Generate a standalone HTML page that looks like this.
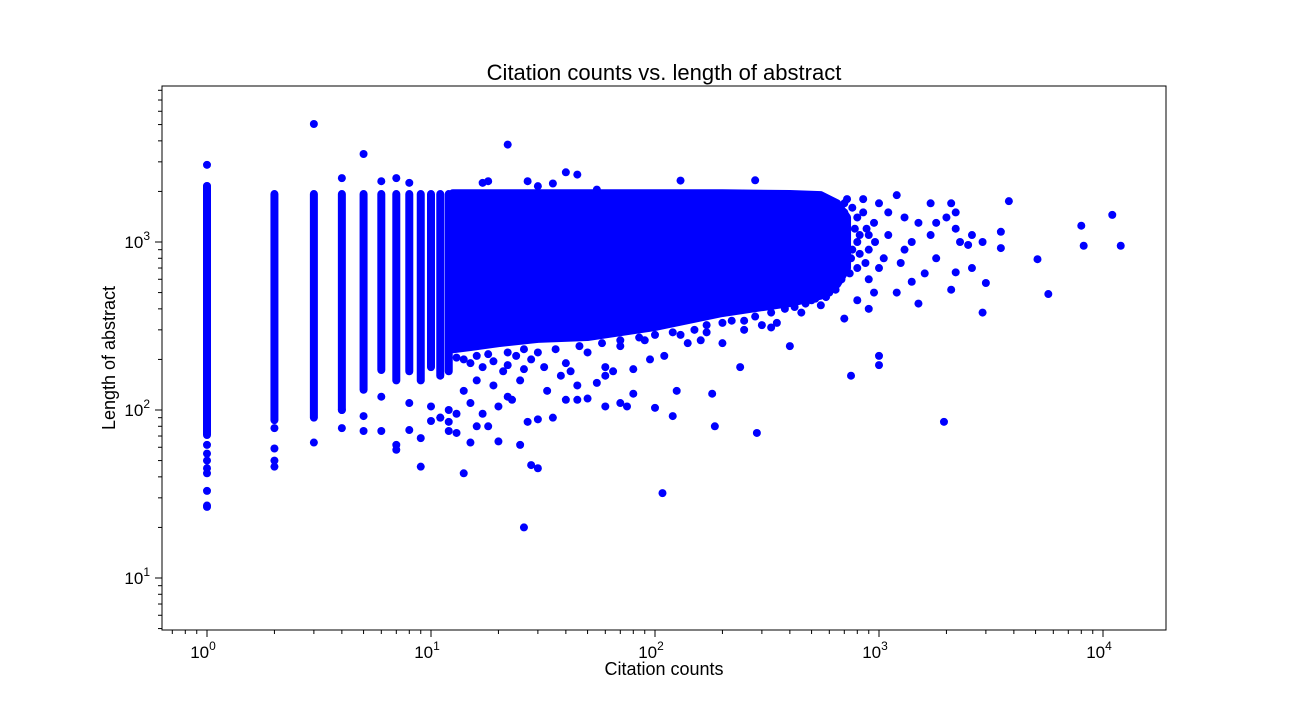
<!DOCTYPE html>
<html><head><meta charset="utf-8"><style>
body{margin:0;background:#fff;width:1296px;height:720px;overflow:hidden}
svg text{font-family:"Liberation Sans",sans-serif;fill:#000}
</style></head><body>
<svg id="chart" width="1296" height="720">
<text x="664" y="80" font-size="22" text-anchor="middle">Citation counts vs. length of abstract</text>
<text x="664" y="675" font-size="18" text-anchor="middle">Citation counts</text>
<text transform="translate(115,358) rotate(-90)" font-size="18" text-anchor="middle">Length of abstract</text>
<g id="marks"></g>
<g id="axes"></g>
</svg>
<script>
const xTicks=[0,1,2,3,4];
const yTicks=[1,2,3];
// integer citation columns: [citations, min length, max length]
const columns=[[1,71,2155],[2,87,1930],[3,90,1930],[4,100,1930],[5,132,1930],[6,173,1930],[7,150,1930],[8,170,1930],[9,150,1930],[10,180,1930],[11,160,1930],[12,170,1930]];
// dense band envelope: [citations, lower, upper]
const band=[[12.5,230,1950],[15,237,1950],[20,250,1950],[30,265,1950],[50,272,1950],[100,312,1950],[200,378,1950],[400,433,1930],[550,480,1900],[650,560,1700],[720,700,1400]];
// scattered points: [citations, length]
const points=[[1,2880],[1,2150],[1,62],[1,55],[1,50],[1,45],[1,42],[1,33],[1,27],[1,26.5],[2,59],[2,50],[2,46],[2,78],[3,5040],[3,64],[4,2400],[4,78],[4,100],[5,3340],[5,75],[5,92],[6,2300],[6,75],[6,120],[7,2400],[7,58],[7,62],[8,2250],[8,76],[8,110],[9,46],[9,68],[10,86],[11,90],[12,100],
[22,3800],[40,2600],[45,2520],[35,2230],[17,2250],[18,2300],[27,2300],[30,2150],[55,2050],[130,2320],[280,2330],
[3800,1750],[11000,1450],[8000,1250],[12000,950],[8200,950],[5100,790],[5700,490],[2900,380],[3000,570],[1950,85],[2600,700],[2000,1400],[2200,1200],[1500,1300],[1300,1400],[1200,500],[1000,700],[1000,210],[1000,185],[750,160],[400,240],[1500,430],[1400,580],[2500,960],[3500,1150],[3500,920],[2200,660],[2100,520],[1100,1500],[1300,900],[1700,1700],[2900,1000],[2300,1000],[1800,800],[1600,650],[900,600],[950,500],[900,400],[800,450],[700,350],[600,500],[1200,1900],[1000,1700],[850,1800],[950,1300],[1100,1100],[800,1000],[750,800],[1250,750],[1400,1000],[1700,1100],[2100,1700],[2200,1500],[800,1400],[700,1700],[650,1250],[600,900],[900,900],[1050,800],[600,700],[500,450],[450,380],[550,420],[350,330],[1800,1300],[2600,1100],
[720,1800],[760,1600],[780,1200],[820,1100],[760,900],[800,700],[740,650],[850,1500],[880,1200],[700,1500],[820,850],[870,750],[900,1100],[960,1000],[680,600],[640,520],[580,470],[520,460],[470,430],[420,410],[380,400],[330,380],[280,360],[250,340],[200,330],[170,320],[150,300],[120,290],[100,280],[85,270],[70,260],[58,250],[46,240],[36,230],[30,220],[26,230],[22,220],[18,215],[16,210],[14,200],[13,205],[15,190],[17,180],[19,195],[22,185],[26,175],
[26,20],[108,32],[14,42],[28,47],[30,45],[285,73],[185,80],[25,62],[20,65],[15,64],[18,80],[16,80],[12,75],[13,73],[45,115],[40,115],[50,117],[60,105],[75,105],[80,125],[70,110],[100,103],[120,92],[125,130],[180,125],[240,180],[17,95],[20,105],[22,120],[15,110],[30,88],[35,90],[27,85],[55,145],[65,170],[80,175],[95,200],[110,210],[200,250],[160,260],[300,320],[60,160],[38,160],[33,130],[23,115],[13,95],[11,90],[19,140],[25,150],[45,140],[10,105],[12,85],[14,130],[16,150],[21,170],[28,200],[40,190],[50,220],[70,240],[90,260],[130,280],[170,290],[250,300],[330,310],[220,340],[140,250],[60,180],[42,170],[32,180],[24,210]];
const X0=162,X1=1166,Y0=86,Y1=630;
function xs(c){return 207+224*Math.log10(c);}
function ys(v){return 242-168*(Math.log10(v)-3);}
const NS="http://www.w3.org/2000/svg";
const marks=document.getElementById('marks'), axes=document.getElementById('axes');
function mk(tag,attrs,parent){const e=document.createElementNS(NS,tag);for(const k in attrs)e.setAttribute(k,attrs[k]);parent.appendChild(e);return e;}
columns.forEach(c=>{
  const l=mk('line',{x1:xs(c[0]),x2:xs(c[0]),y1:ys(c[1]),y2:ys(c[2]),stroke:'#0000ff','stroke-width':8,'stroke-linecap':'round'},marks);
  
  
});
let d='M'+band.map(b=>xs(b[0])+','+ys(b[2])).join(' L')+' L'+band.slice().reverse().map(b=>xs(b[0])+','+ys(b[1])).join(' L')+'Z';
const poly=mk('path',{d:d,fill:'#0000ff',stroke:'#0000ff','stroke-width':8,'stroke-linejoin':'round'},marks);


points.forEach(p=>{
  const c=mk('circle',{cx:xs(p[0]),cy:ys(p[1]),r:4,fill:'#0000ff'},marks);
  
  
});
const fr=mk('rect',{x:X0,y:Y0,width:X1-X0,height:Y1-Y0,fill:'none',stroke:'#000','stroke-width':1},axes);


xTicks.forEach(t=>{
  const x=xs(Math.pow(10,t));
  mk('line',{x1:x,x2:x,y1:Y1,y2:Y1+7,stroke:'#000'},axes);
  const tx=mk('text',{x:x-4,y:Y1+28,'font-size':17,'text-anchor':'middle'},axes);
  
  
  tx.innerHTML='10<tspan dy="-8" font-size="12">'+t+'</tspan>';
  for(let m=2;m<10;m++){const xm=xs(m*Math.pow(10,t));if(xm>X0&&xm<X1)mk('line',{x1:xm,x2:xm,y1:Y1,y2:Y1+4,stroke:'#000'},axes);}
});
[0.7,0.8,0.9].forEach(v=>mk('line',{x1:xs(v),x2:xs(v),y1:Y1,y2:Y1+4,stroke:'#000'},axes));
yTicks.forEach(t=>{
  const y=ys(Math.pow(10,t));
  mk('line',{x1:X0-7,x2:X0,y1:y,y2:y,stroke:'#000'},axes);
  const tx=mk('text',{x:X0-12,y:y+6,'font-size':17,'text-anchor':'end'},axes);
  
  
  tx.innerHTML='10<tspan dy="-8" font-size="12">'+t+'</tspan>';
});
for(let t=0;t<4;t++)for(let m=2;m<10;m++){const y=ys(m*Math.pow(10,t));if(y>Y0&&y<Y1)mk('line',{x1:X0-4,x2:X0,y1:y,y2:y,stroke:'#000'},axes);}
</script>
</body></html>
